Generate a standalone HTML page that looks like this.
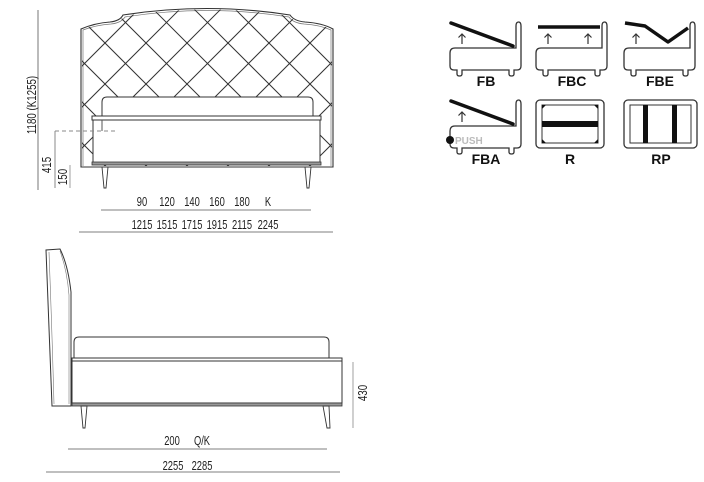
<!DOCTYPE html>
<html><head><meta charset="utf-8"><style>
html,body{margin:0;padding:0;background:#fff;}
svg{display:block;}
.t{font-family:"Liberation Sans",sans-serif;font-size:13px;fill:#222;}
.b{font-family:"Liberation Sans",sans-serif;font-weight:bold;font-size:14px;fill:#111;}
</style></head><body>
<svg width="704" height="482" viewBox="0 0 704 482" xmlns="http://www.w3.org/2000/svg">
<defs>
<clipPath id="hb"><path d="M82,30 Q95,24 110,23 Q120,22 124,16 Q207,3 289,16 Q294,22 305,23 Q322,24 332,30 L332,166 L82,166 Z"/></clipPath>
<g id="body"><path d="M0,31 Q0,26 5,26 H66 V4 Q66,0 68.5,0 Q71,0 71,4 V44 Q71,48 67,48 H64 V52 Q64,54 61.5,54 Q59,54 59,52 V48 H12 V52 Q12,54 9.5,54 Q7,54 7,52 V48 H4 Q0,48 0,44 Z" fill="#fff" stroke="#333" stroke-width="1.3"/></g>
<g id="arr"><path d="M0,22 V12 M-3.5,15.5 L0,12 L3.5,15.5" fill="none" stroke="#333" stroke-width="1.2"/></g>
</defs>

<!-- FRONT VIEW -->
<path d="M81,167 L81,29 Q95,23 110,22 Q120,21 123,15 Q207,2 290,15 Q294,21 305,22 Q322,23 333,29 L333,167 Z" fill="#fff" stroke="#333" stroke-width="1.1"/>
<path d="M83,166 L83,30 Q96,25 111,24 Q121,23 125,17 Q207,4 289,17 Q293,23 304,24 Q320,25 331,30 L331,166" fill="none" stroke="#777" stroke-width="0.7"/>
<g clip-path="url(#hb)" stroke="#333" stroke-width="1" fill="none">
<path d="M-50,-153 l400,400 M-9,-153 l400,400 M32,-153 l400,400 M73,-153 l400,400 M114,-153 l400,400 M-91,-153 l400,400 M-132,-153 l400,400 M-173,-153 l400,400 M-214,-153 l400,400 M-255,-153 l400,400 M-296,-153 l400,400 M-337,-153 l400,400 M-378,-153 l400,400"/>
<path d="M424,-153 l-400,400 M383,-153 l-400,400 M342,-153 l-400,400 M301,-153 l-400,400 M260,-153 l-400,400 M219,-153 l-400,400 M178,-153 l-400,400 M465,-153 l-400,400 M506,-153 l-400,400 M547,-153 l-400,400 M588,-153 l-400,400 M629,-153 l-400,400 M670,-153 l-400,400"/>
</g>
<path d="M102,117 V102 Q102,97 107,97 H308 Q313,97 313,102 V117" fill="#fff" stroke="#333" stroke-width="1"/>
<rect x="93" y="120" width="227" height="43" fill="#fff" stroke="#333" stroke-width="1"/>
<rect x="92" y="116" width="229" height="4" fill="#fff" stroke="#333" stroke-width="1"/>
<rect x="92" y="162" width="229" height="3" fill="#999" stroke="#333" stroke-width="0.8"/>
<line x1="102" y1="120" x2="102" y2="131" stroke="#555" stroke-width="1"/>
<path d="M102,167 L108,167 L106,188 L104,188 Z" fill="#fff" stroke="#333" stroke-width="0.9"/>
<path d="M305,167 L311,167 L309,188 L307,188 Z" fill="#fff" stroke="#333" stroke-width="0.9"/>
<line x1="55" y1="131" x2="116" y2="131" stroke="#888" stroke-width="1" stroke-dasharray="4,3"/>
<line x1="55" y1="131" x2="55" y2="188" stroke="#888" stroke-width="1"/>
<line x1="38" y1="10" x2="38" y2="190" stroke="#555" stroke-width="0.8"/>
<line x1="70" y1="165" x2="70" y2="188" stroke="#888" stroke-width="0.8"/>
<text class="t" transform="translate(36,105) rotate(-90) scale(0.75,1)" text-anchor="middle">1180 (K1255)</text>
<text class="t" transform="translate(51,165) rotate(-90) scale(0.75,1)" text-anchor="middle">415</text>
<text class="t" transform="translate(67,177) rotate(-90) scale(0.75,1)" text-anchor="middle">150</text>
<g class="t" text-anchor="middle">
<text transform="translate(142,206) scale(0.72,1)">90</text>
<text transform="translate(167,206) scale(0.72,1)">120</text>
<text transform="translate(192,206) scale(0.72,1)">140</text>
<text transform="translate(217,206) scale(0.72,1)">160</text>
<text transform="translate(242,206) scale(0.72,1)">180</text>
<text transform="translate(268,206) scale(0.72,1)">K</text>
<text transform="translate(142,229) scale(0.72,1)">1215</text>
<text transform="translate(167,229) scale(0.72,1)">1515</text>
<text transform="translate(192,229) scale(0.72,1)">1715</text>
<text transform="translate(217,229) scale(0.72,1)">1915</text>
<text transform="translate(242,229) scale(0.72,1)">2115</text>
<text transform="translate(268,229) scale(0.72,1)">2245</text>
</g>
<line x1="101" y1="210" x2="311" y2="210" stroke="#555" stroke-width="0.8"/>
<line x1="79" y1="232" x2="333" y2="232" stroke="#555" stroke-width="0.8"/>

<!-- SIDE VIEW -->
<path d="M46,250 Q49,330 52,406 L60,406 L71,406 L71,292 Q68,265 60,249 Z" fill="#fff" stroke="#333" stroke-width="1"/>
<path d="M54,404 Q52,330 49,252 M60,251 Q67,270 69,295 L69,404" fill="none" stroke="#777" stroke-width="0.6"/>
<path d="M74,358 V342 Q74,337 79,337 H324 Q329,337 329,342 V358" fill="#fff" stroke="#333" stroke-width="1"/>
<rect x="72" y="361" width="270" height="42" fill="#fff" stroke="#333" stroke-width="1"/>
<rect x="72" y="358" width="270" height="3" fill="#fff" stroke="#333" stroke-width="1"/>
<rect x="72" y="403" width="270" height="3" fill="#999" stroke="#333" stroke-width="0.8"/>
<path d="M81,406 L87,406 L85,428 L83,428 Z" fill="#fff" stroke="#333" stroke-width="0.9"/>
<path d="M323,406 L329,406 L330,428 L327,428 Z" fill="#fff" stroke="#333" stroke-width="0.9"/>
<line x1="353" y1="362" x2="353" y2="428" stroke="#888" stroke-width="0.8"/>
<text class="t" transform="translate(367,393) rotate(-90) scale(0.75,1)" text-anchor="middle">430</text>
<g class="t" text-anchor="middle">
<text transform="translate(172,445) scale(0.72,1)">200</text>
<text transform="translate(202,445) scale(0.72,1)">Q/K</text>
<text transform="translate(173,470) scale(0.72,1)">2255</text>
<text transform="translate(202,470) scale(0.72,1)">2285</text>
</g>
<line x1="68" y1="449" x2="327" y2="449" stroke="#555" stroke-width="0.8"/>
<line x1="46" y1="472" x2="340" y2="472" stroke="#555" stroke-width="0.8"/>

<!-- ICONS -->
<g transform="translate(450,22)">
<use href="#body"/><use href="#arr" x="12"/>
<line x1="1" y1="1" x2="63" y2="24" stroke="#111" stroke-width="3.5" stroke-linecap="round"/>
<text class="b" x="36" y="64" text-anchor="middle">FB</text>
</g>
<g transform="translate(536,22)">
<use href="#body"/><use href="#arr" x="12"/><use href="#arr" x="52"/>
<line x1="2" y1="5" x2="64" y2="5" stroke="#111" stroke-width="3.5"/>
<text class="b" x="36" y="64" text-anchor="middle">FBC</text>
</g>
<g transform="translate(624,22)">
<use href="#body"/><use href="#arr" x="12"/>
<polyline points="1,1 21,4 44,20 64,6" fill="none" stroke="#111" stroke-width="3.5" stroke-linejoin="round"/>
<text class="b" x="36" y="64" text-anchor="middle">FBE</text>
</g>
<g transform="translate(450,100)">
<use href="#body"/><use href="#arr" x="12"/>
<line x1="1" y1="1" x2="63" y2="24" stroke="#111" stroke-width="3.5" stroke-linecap="round"/>
<circle cx="0" cy="40" r="4" fill="#111"/>
<text x="5" y="44" font-family="Liberation Sans,sans-serif" font-weight="bold" font-size="10" fill="#bbb">PUSH</text>
<text class="b" x="36" y="64" text-anchor="middle">FBA</text>
</g>
<g transform="translate(536,100)">
<rect x="0" y="0" width="68" height="48" rx="4" fill="#fff" stroke="#333" stroke-width="1.3"/>
<rect x="6" y="5" width="56" height="38" fill="#fff" stroke="#333" stroke-width="1"/>
<path d="M6,5 h4 l-4,4 Z M62,5 h-4 l4,4 Z M6,43 h4 l-4,-4 Z M62,43 h-4 l4,-4 Z" fill="#111"/>
<rect x="6" y="21" width="56" height="6" fill="#111"/>
<text class="b" x="34" y="64" text-anchor="middle">R</text>
</g>
<g transform="translate(624,100)">
<rect x="0" y="0" width="73" height="48" rx="4" fill="#fff" stroke="#333" stroke-width="1.3"/>
<rect x="6" y="5" width="61" height="38" fill="#fff" stroke="#333" stroke-width="1"/>
<rect x="19" y="5" width="5" height="38" fill="#111"/>
<rect x="48" y="5" width="5" height="38" fill="#111"/>
<text class="b" x="37" y="64" text-anchor="middle">RP</text>
</g>
</svg>
</body></html>
